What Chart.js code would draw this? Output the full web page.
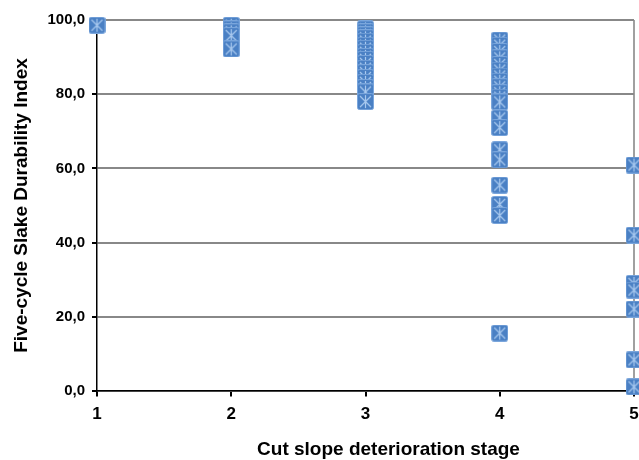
<!DOCTYPE html>
<html>
<head>
<meta charset="utf-8">
<script src="https://cdn.jsdelivr.net/npm/chart.js@4"></script>
<style>
  html, body { margin: 0; padding: 0; background: #fff; }
  #wrap { width: 639px; height: 460px; }
</style>
</head>
<body>
<div id="wrap"><canvas id="chart" width="639" height="460"></canvas></div>
<script>
'use strict';

// values, one list per deterioration stage
const stages = [1, 2, 3, 4, 5];
const stage1 = [98.6];
const stage2 = [98.6, 97.6, 96.8, 95.8, 92.2];
const stage3 = [97.6, 96.8, 96.0, 95.2, 94.3, 93.2, 92.4, 91.3, 90.2, 89.4, 88.3, 87.0, 85.8, 84.5, 83.2, 81.8, 80.6, 78.0];
const stage4 = [94.6, 93.2, 91.5, 89.8, 88.0, 86.5, 84.9, 83.5, 82.0, 80.4, 79.2, 77.9, 73.6, 71.0, 65.0, 62.3, 55.5, 50.3, 47.3, 15.6];
const stage5 = [60.9, 42.0, 29.0, 27.2, 22.1, 8.4, 1.1];
const yTicks = [0, 20, 40, 60, 80, 100];
const xTitle = 'Cut slope deterioration stage';
const yTitle = 'Five-cycle Slake Durability Index';

const byStage = [stage1, stage2, stage3, stage4, stage5];
const points = [];
byStage.forEach((vals, i) => vals.forEach(v => points.push({ x: stages[i], y: v })));

const FAMILY = '"Liberation Sans", Arial, sans-serif';
const boldFont = (size) => ({ family: FAMILY, size, weight: 'bold' });

// excel-like "star on square" marker
function makeMarker() {
    const s = 17;
    const c = document.createElement('canvas');
    c.width = s; c.height = s;
    const g = c.getContext('2d');
    g.fillStyle = '#4a80c4';
    g.strokeStyle = '#7aa6dc';
    g.lineWidth = 1;
    g.beginPath();
    g.roundRect(0.5, 0.5, s - 1, s - 1, 2);
    g.fill();
    g.stroke();
    g.strokeStyle = '#a9c9ef';
    g.lineWidth = 1.2;
    g.beginPath();
    g.moveTo(3, 3); g.lineTo(s - 3, s - 3);
    g.moveTo(s - 3, 3); g.lineTo(3, s - 3);
    g.moveTo(s / 2, 2); g.lineTo(s / 2, s - 2);
    g.stroke();
    return c;
}

// x title sits a bit right of the plot centre in the original, draw it by hand
const xTitlePlugin = {
    id: 'xTitle',
    afterDraw(chart) {
        const ctx = chart.ctx;
        const area = chart.chartArea;
        ctx.save();
        ctx.font = 'bold 19px ' + FAMILY;
        ctx.fillStyle = '#000';
        ctx.textAlign = 'center';
        ctx.textBaseline = 'middle';
        ctx.fillText(xTitle, (area.left + area.right) / 2 + 23, 450);
        ctx.restore();
    }
};

new Chart(document.getElementById('chart'), {
    type: 'scatter',
    data: {
        datasets: [{
            data: points,
            pointStyle: makeMarker(),
            pointRadius: 8,
            clip: false
        }]
    },
    options: {
        responsive: false,
        animation: false,
        layout: { autoPadding: false, padding: { left: 0, right: 5, top: 20, bottom: 0 } },
        plugins: { legend: { display: false }, tooltip: { enabled: false } },
        scales: {
            x: {
                type: 'linear',
                min: 1, max: 5,
                afterBuildTicks: (ax) => { ax.ticks = stages.map(v => ({ value: v })); },
                afterFit: (ax) => { ax.height = 69; },
                border: { display: true, color: '#000', width: 1.5 },
                grid: {
                    color: (ctx) => ctx.tick && ctx.tick.value === 5 ? '#a0a0a0' : 'rgba(0,0,0,0)',
                    lineWidth: 2,
                    tickColor: '#000',
                    // long tick keeps labels low, dash shows only the first 5px
                    tickLength: 13,
                    tickBorderDash: [5, 40],
                    drawTicks: true
                },
                ticks: { color: '#000', font: boldFont(17), padding: 0, maxRotation: 0 }
            },
            y: {
                min: 0, max: 100,
                afterBuildTicks: (ax) => { ax.ticks = yTicks.map(v => ({ value: v })); },
                afterFit: (ax) => { ax.width = 97; },
                border: { display: true, color: '#000', width: 1.5 },
                grid: { color: '#888', lineWidth: 2, tickColor: '#000', tickLength: 5 },
                ticks: {
                    color: '#000', font: boldFont(15), padding: 7,
                    callback: (v) => v.toFixed(1).replace('.', ',')
                },
                title: { display: true, text: yTitle, color: '#000', font: boldFont(19), padding: { top: 10, bottom: 0 } }
            }
        }
    },
    plugins: [xTitlePlugin]
});
</script>
</body>
</html>
